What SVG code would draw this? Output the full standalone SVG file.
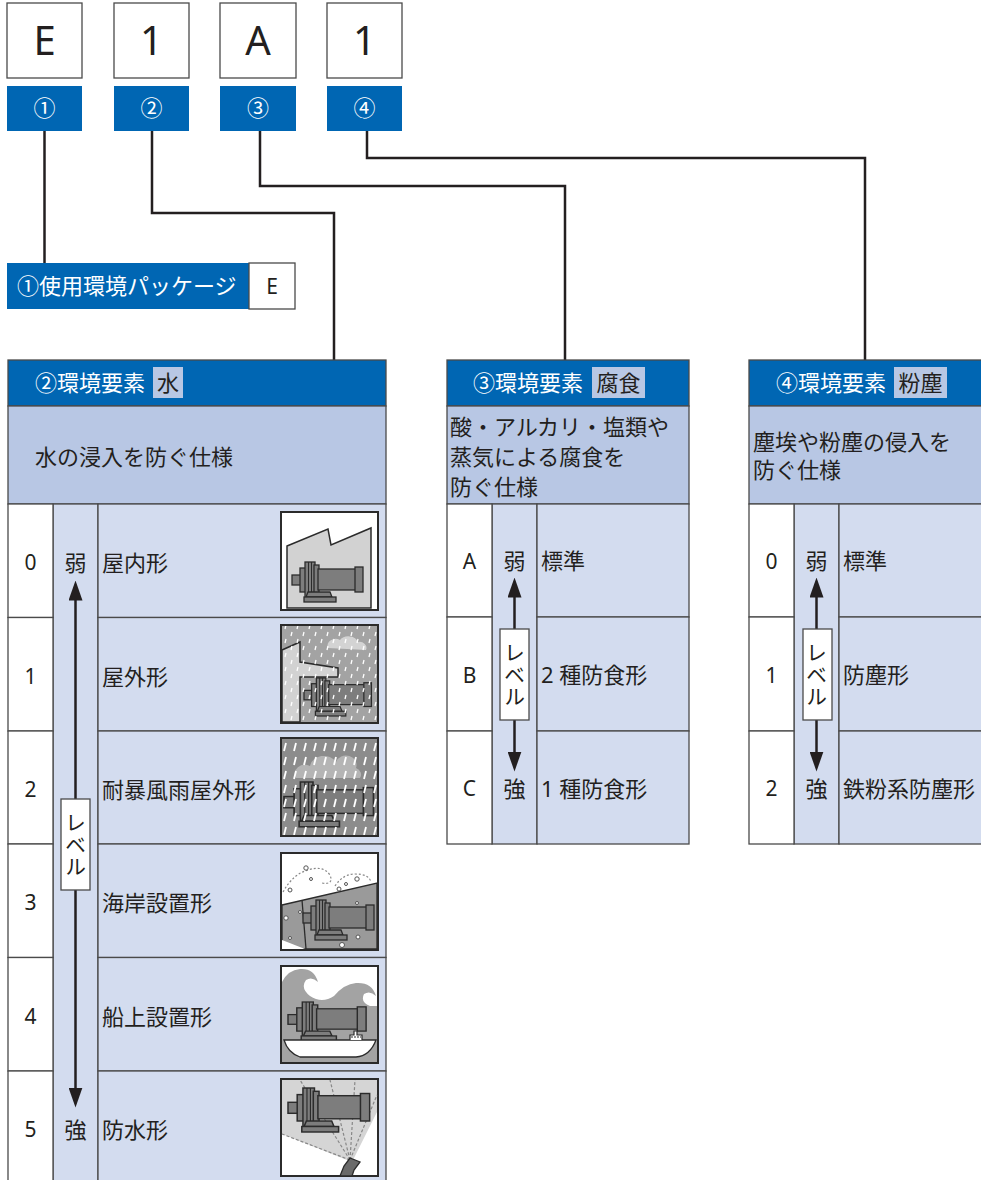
<svg xmlns="http://www.w3.org/2000/svg" width="981" height="1180" viewBox="0 0 981 1180">
<style>
.bd{stroke:#4a4a4a;stroke-width:1.3}
.hdr{fill:#0066b3}
.desc{fill:#b8c7e4}
.cell{fill:#d3dcef}
.wt{fill:#fff}
.t{font-family:"Noto Sans","Noto Sans CJK JP",sans-serif;font-size:22px;fill:#231f20}
.n{font-family:"Noto Sans",sans-serif;font-size:21px;fill:#231f20;text-anchor:middle}
.big{font-family:"Noto Sans",sans-serif;font-size:40px;fill:#231f20;text-anchor:middle}
.tw{fill:#fff}
.mid{text-anchor:middle}
.vt{font-family:"Noto Sans CJK JP",sans-serif;font-size:21px;fill:#231f20;writing-mode:vertical-rl;text-anchor:middle;letter-spacing:1px}
.conn{fill:none;stroke:#231f20;stroke-width:2.5}
.arr{stroke:#231f20;stroke-width:2.5;marker-start:url(#ah);marker-end:url(#ah)}
.frame{stroke:#2b2b2b;stroke-width:2}
.m{fill:#7d7d7d;stroke:#2b2b2b;stroke-width:1.3}
</style>
<defs>
<marker id="ah" viewBox="0 0 20 14" refX="0.5" refY="7" markerWidth="20" markerHeight="14" markerUnits="userSpaceOnUse" orient="auto-start-reverse">
<path d="M0,0 L20,7 L0,14 Z" fill="#231f20"/>
</marker>
<pattern id="rain1" width="12" height="14" patternUnits="userSpaceOnUse">
<line x1="4" y1="2" x2="3" y2="6" stroke="#fff" stroke-width="1.3"/>
<line x1="10" y1="9" x2="9" y2="13" stroke="#fff" stroke-width="1.3"/>
</pattern>
<pattern id="rain2" width="10" height="14" patternUnits="userSpaceOnUse">
<line x1="6" y1="1" x2="4" y2="9" stroke="#fff" stroke-width="1.8"/>
</pattern>
<g id="motor">
<rect class="m" x="0" y="13" width="10" height="10"/>
<rect class="m" x="8" y="6" width="6" height="24"/>
<rect class="m" x="13" y="0" width="10" height="36"/>
<line x1="16.5" y1="0" x2="16.5" y2="36" stroke="#2b2b2b" stroke-width="1"/>
<line x1="19.5" y1="0" x2="19.5" y2="36" stroke="#2b2b2b" stroke-width="1"/>
<rect class="m" x="22" y="3" width="5" height="30"/>
<rect class="m" x="26" y="7" width="38" height="21"/>
<rect class="m" x="63" y="5" width="8" height="25"/>
<polygon class="m" points="16,30 38,30 40,35 14,35"/>
<rect class="m" x="12" y="35" width="32" height="5"/>
</g>
</defs>

<rect width="981" height="1180" fill="#fff"/>

<g id="connectors">
<polyline class="conn" points="44.5,131 44.5,263"/>
<polyline class="conn" points="152,131 152,213 334,213 334,360"/>
<polyline class="conn" points="260,131 260,186 565,186 565,360"/>
<polyline class="conn" points="367,131 367,158 865,158 865,360"/>
</g>

<g id="code-E">
<rect class="wt bd" x="7" y="3" width="75" height="75"/>
<text class="big" x="44.5" y="55">E</text>
<rect class="hdr" x="7" y="86" width="75" height="45"/>
<text class="t tw mid" x="44.5" y="116">①</text>
</g>
<g id="code-1a">
<rect class="wt bd" x="114" y="3" width="75" height="75"/>
<text class="big" x="151.5" y="55">1</text>
<rect class="hdr" x="114" y="86" width="75" height="45"/>
<text class="t tw mid" x="151.5" y="116">②</text>
</g>
<g id="code-A">
<rect class="wt bd" x="220" y="3" width="76" height="75"/>
<text class="big" x="258" y="55">A</text>
<rect class="hdr" x="220" y="86" width="76" height="45"/>
<text class="t tw mid" x="258" y="116">③</text>
</g>
<g id="code-1b">
<rect class="wt bd" x="327" y="3" width="75" height="75"/>
<text class="big" x="364.5" y="55">1</text>
<rect class="hdr" x="327" y="86" width="75" height="45"/>
<text class="t tw mid" x="364.5" y="116">④</text>
</g>

<g id="package">
<rect class="hdr" x="7" y="263" width="242" height="46"/>
<text class="t tw" x="17" y="294">①使用環境パッケージ</text>
<rect class="wt bd" x="249" y="263" width="46" height="46"/>
<text class="n" x="272" y="294">E</text>
</g>

<g id="table-water">
<rect class="hdr bd" x="8" y="360" width="378" height="46"/>
<text class="t tw" x="35" y="391">②環境要素</text>
<rect class="desc" x="153" y="367" width="30" height="31"/>
<text class="t mid" x="168" y="391">水</text>
<rect class="desc bd" x="8" y="406" width="378" height="98"/>
<text class="t" x="35" y="465">水の浸入を防ぐ仕様</text>
<rect class="cell bd" x="53" y="504" width="45" height="681"/>
<rect class="wt bd" x="8" y="504" width="45" height="113.5"/>
<rect class="wt bd" x="8" y="617.5" width="45" height="113.5"/>
<rect class="wt bd" x="8" y="731" width="45" height="113"/>
<rect class="wt bd" x="8" y="844" width="45" height="113.5"/>
<rect class="wt bd" x="8" y="957.5" width="45" height="113.5"/>
<rect class="wt bd" x="8" y="1071" width="45" height="114"/>
<rect class="cell bd" x="98" y="504" width="288" height="113.5"/>
<rect class="cell bd" x="98" y="617.5" width="288" height="113.5"/>
<rect class="cell bd" x="98" y="731" width="288" height="113"/>
<rect class="cell bd" x="98" y="844" width="288" height="113.5"/>
<rect class="cell bd" x="98" y="957.5" width="288" height="113.5"/>
<rect class="cell bd" x="98" y="1071" width="288" height="114"/>
<text class="n" x="30.5" y="570">0</text>
<text class="n" x="30.5" y="684">1</text>
<text class="n" x="30.5" y="797">2</text>
<text class="n" x="30.5" y="910">3</text>
<text class="n" x="30.5" y="1024">4</text>
<text class="n" x="30.5" y="1137">5</text>
<text class="t" x="102" y="571">屋内形</text>
<text class="t" x="102" y="685">屋外形</text>
<text class="t" x="102" y="798">耐暴風雨屋外形</text>
<text class="t" x="102" y="911">海岸設置形</text>
<text class="t" x="102" y="1025">船上設置形</text>
<text class="t" x="102" y="1138">防水形</text>
<text class="t mid" x="75.5" y="571">弱</text>
<text class="t mid" x="75.5" y="1138">強</text>
<line class="arr" x1="75.5" y1="600" x2="75.5" y2="1088"/>
<rect class="wt bd" x="61" y="799" width="29" height="91"/>
<text class="vt" x="75.5" y="845">レベル</text>

<g id="icon-indoor">
<rect class="frame" x="281" y="512" width="97" height="98" fill="#fff"/>
<polygon points="287,546 328,529 331,545 371,528 371,608 287,608" fill="#d2d2d2" stroke="#2b2b2b" stroke-width="1.5"/>
<use href="#motor" transform="translate(292,562)"/>
</g>
<g id="icon-outdoor">
<rect class="frame" x="281" y="625" width="97" height="98" fill="#a3a3a3"/>
<path d="M328,648 a8,7 0 0 1 12,-8 a10,8 0 0 1 18,2 a7,6 0 0 1 8,8 z" fill="#d3d3d3"/>
<polygon points="282,650 300,642 300,662 338,668 338,677 300,677 300,722 282,722" fill="#d2d2d2" stroke="#2b2b2b" stroke-width="1.5"/>
<use href="#motor" transform="translate(304,678) scale(0.95)"/>
<rect x="282" y="626" width="95" height="96" fill="url(#rain1)"/>
</g>
<g id="icon-storm">
<rect class="frame" x="281" y="738" width="97" height="98" fill="#8c8c8c"/>
<path d="M296,778 a10,9 0 0 1 14,-12 a14,12 0 0 1 26,-4 a10,9 0 0 1 20,6 a8,7 0 0 1 4,10 z" fill="#b5b5b5"/>
<use href="#motor" transform="translate(284,782) scale(1.26,1.12)"/>
<rect x="282" y="739" width="95" height="96" fill="url(#rain2)"/>
</g>
<g id="icon-coast">
<rect class="frame" x="281" y="853" width="97" height="97" fill="#fff"/>
<polygon points="282,905 377,883 377,949 282,949" fill="#9a9a9a" stroke="#2b2b2b" stroke-width="1.3"/>
<line x1="302" y1="900" x2="306" y2="949" stroke="#2b2b2b" stroke-width="1.3"/>
<polygon points="282,940 305,949 282,949" fill="#fff"/>
<path d="M283,892 q10,-18 25,-22 q15,-5 22,5 q4,10 -8,8" fill="none" stroke="#888" stroke-width="1.2" stroke-dasharray="2,2"/>
<path d="M335,886 q8,-12 20,-12 q14,0 16,8" fill="none" stroke="#888" stroke-width="1.2" stroke-dasharray="2,2"/>
<g fill="#fff" stroke="#555" stroke-width="1">
<circle cx="290" cy="890" r="2"/><circle cx="306" cy="868" r="2.2"/><circle cx="311" cy="879" r="1.5"/><circle cx="339" cy="889" r="2"/><circle cx="357" cy="879" r="2.2"/><circle cx="346" cy="884" r="1.5"/>
<circle cx="286" cy="918" r="2.2"/><circle cx="300" cy="912" r="1.5"/><circle cx="347" cy="911" r="1.5"/><circle cx="357" cy="903" r="1.5"/><circle cx="345" cy="920" r="3"/><circle cx="328" cy="905" r="1.5"/><circle cx="368" cy="925" r="2"/><circle cx="358" cy="937" r="2"/><circle cx="342" cy="945" r="2.5"/><circle cx="290" cy="938" r="1.5"/><circle cx="328" cy="935" r="1.5"/>
</g>
<use href="#motor" transform="translate(303,900)"/>
</g>
<g id="icon-ship">
<rect class="frame" x="281" y="966" width="97" height="97" fill="#fff"/>
<path d="M282,1062 L282,982 Q288,970 300,969 Q314,968 318,982 Q312,976 306,980 Q300,988 310,996 Q322,1004 334,996 Q344,984 356,983 Q372,982 376,996 Q370,990 364,994 Q360,1002 370,1006 L377,1006 L377,1062 Z" fill="#a3a3a3"/>
<use href="#motor" transform="translate(288,1002) scale(1.1,0.97)"/>
<path d="M284,1040 L376,1040 q-6,16 -20,17 L300,1057 q-12,-4 -16,-17 Z" fill="#fff" stroke="#2b2b2b" stroke-width="1.3"/>
<path d="M350,1040 L350,1035 L354,1035 L354,1031 L357,1031 L357,1035 L362,1035 L362,1040" fill="#fff" stroke="#2b2b2b" stroke-width="1.2"/>
<line x1="351" y1="1037" x2="361" y2="1037" stroke="#2b2b2b" stroke-width="1.2" stroke-dasharray="2,1"/>
</g>
<g id="icon-waterproof">
<rect class="frame" x="281" y="1079" width="97" height="97" fill="#fff"/>
<polygon points="282,1080 377,1080 377,1112 352,1162 282,1134" fill="#d5d5d5"/>
<g stroke="#888" stroke-width="1.2" stroke-dasharray="3,2" fill="none">
<line x1="350" y1="1160" x2="300" y2="1080"/><line x1="350" y1="1160" x2="330" y2="1080"/><line x1="350" y1="1160" x2="355" y2="1080"/><line x1="350" y1="1160" x2="377" y2="1095"/><line x1="350" y1="1160" x2="282" y2="1134"/>
</g>
<use href="#motor" transform="translate(288,1088) scale(1.15,1.1)"/>
<path d="M340,1176 L344,1166 L350,1158 L360,1162 L354,1170 L352,1176 Z" fill="#6a6a6a" stroke="#2b2b2b" stroke-width="1.3"/>
</g>
</g>

<g id="table-corrosion">
<rect class="hdr bd" x="447" y="360" width="242" height="46"/>
<text class="t tw" x="473" y="391">③環境要素</text>
<rect class="desc" x="592" y="367" width="53" height="31"/>
<text class="t mid" x="618.5" y="391">腐食</text>
<rect class="desc bd" x="447" y="406" width="242" height="98"/>
<text class="t" x="450" y="435">酸・アルカリ・塩類や</text>
<text class="t" x="450" y="465">蒸気による腐食を</text>
<text class="t" x="450" y="495">防ぐ仕様</text>
<rect class="cell bd" x="492" y="504" width="45" height="340"/>
<rect class="wt bd" x="447" y="504" width="45" height="113"/>
<rect class="wt bd" x="447" y="617" width="45" height="114"/>
<rect class="wt bd" x="447" y="731" width="45" height="113"/>
<rect class="cell bd" x="537" y="504" width="152" height="113"/>
<rect class="cell bd" x="537" y="617" width="152" height="114"/>
<rect class="cell bd" x="537" y="731" width="152" height="113"/>
<text class="n" x="469.5" y="569">A</text>
<text class="n" x="469.5" y="683">B</text>
<text class="n" x="469.5" y="796">C</text>
<text class="t mid" x="514.5" y="569">弱</text>
<text class="t mid" x="514.5" y="797">強</text>
<text class="t" x="541" y="569">標準</text>
<text class="t" x="541" y="683">2 種防食形</text>
<text class="t" x="541" y="797">1 種防食形</text>
<line class="arr" x1="514.5" y1="597" x2="514.5" y2="752"/>
<rect class="wt bd" x="500" y="629" width="29" height="91"/>
<text class="vt" x="514.5" y="675">レベル</text>
</g>

<g id="table-dust">
<rect class="hdr bd" x="749" y="360" width="245" height="46"/>
<text class="t tw" x="776" y="391">④環境要素</text>
<rect class="desc" x="894" y="367" width="53" height="31"/>
<text class="t mid" x="920.5" y="391">粉塵</text>
<rect class="desc bd" x="749" y="406" width="245" height="98"/>
<text class="t" x="753" y="450">塵埃や粉塵の侵入を</text>
<text class="t" x="753" y="478">防ぐ仕様</text>
<rect class="cell bd" x="794" y="504" width="45" height="340"/>
<rect class="wt bd" x="749" y="504" width="45" height="113"/>
<rect class="wt bd" x="749" y="617" width="45" height="114"/>
<rect class="wt bd" x="749" y="731" width="45" height="113"/>
<rect class="cell bd" x="839" y="504" width="155" height="113"/>
<rect class="cell bd" x="839" y="617" width="155" height="114"/>
<rect class="cell bd" x="839" y="731" width="155" height="113"/>
<text class="n" x="771.5" y="569">0</text>
<text class="n" x="771.5" y="683">1</text>
<text class="n" x="771.5" y="796">2</text>
<text class="t mid" x="816.5" y="569">弱</text>
<text class="t mid" x="816.5" y="797">強</text>
<text class="t" x="843" y="569">標準</text>
<text class="t" x="843" y="683">防塵形</text>
<text class="t" x="843" y="797">鉄粉系防塵形</text>
<line class="arr" x1="816.5" y1="597" x2="816.5" y2="752"/>
<rect class="wt bd" x="803" y="629" width="29" height="91"/>
<text class="vt" x="816.5" y="675">レベル</text>
</g>
</svg>
